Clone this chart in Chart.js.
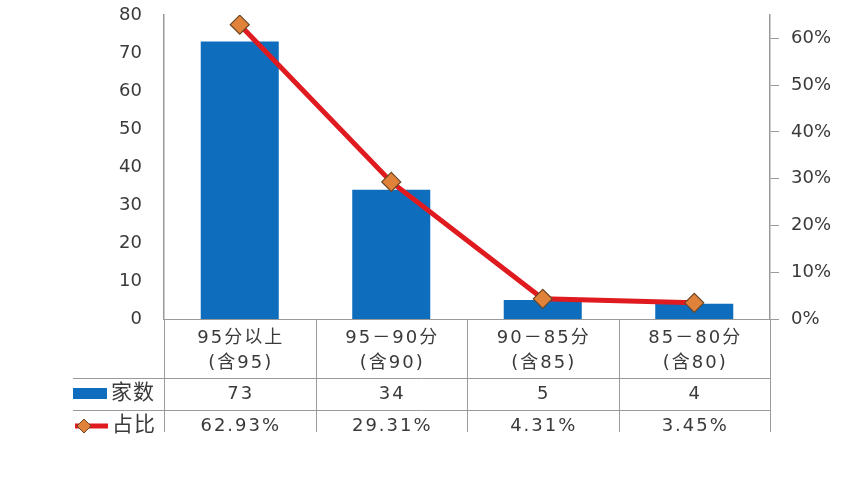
<!DOCTYPE html>
<html>
<head>
<meta charset="utf-8">
<script src="https://cdn.jsdelivr.net/npm/chart.js@4/dist/chart.umd.min.js"></script>
<style>
  html, body { margin: 0; padding: 0; background: #fff; }
</style>
</head>
<body>
<canvas id="myChart" width="862" height="486"></canvas>
<script>
// data
const categories = [['95分以上', '(含95)'], ['95－90分', '(含90)'], ['90－85分', '(含85)'], ['85－80分', '(含80)']];
const counts = [73, 34, 5, 4];
const shares = [62.93, 29.31, 4.31, 3.45];
const countLabel = '家数';
const shareLabel = '占比';

const FONT = '"DejaVu Sans", "Noto Sans CJK SC", sans-serif';
const TEXT = '#3a3a3a';
const GRID = '#9a9a9a';
const BLUE = '#0e6dbd';
const RED = '#e01b20';
const MARK = '#e0823a';
const MARK_EDGE = '#6a4626';

// draws the data table under the x axis (category row + 2 value rows)
const tablePlugin = {
    id: 'dataTable',
    afterDraw(chart) {
        const ctx = chart.ctx;
        const area = chart.chartArea;
        const x = chart.scales.x;
        const half = (x.getPixelForValue(1) - x.getPixelForValue(0)) / 2;
        const top = area.bottom;
        const row1 = top + 59;
        const row2 = row1 + 32;
        const bottom = row2 + 22;
        const keyLeft = 73;

        ctx.save();
        ctx.strokeStyle = GRID;
        ctx.lineWidth = 1;
        ctx.beginPath();
        [row1, row2].forEach(y => {
            ctx.moveTo(keyLeft, y + 0.5);
            ctx.lineTo(area.right, y + 0.5);
        });
        for (let i = 0; i <= categories.length; i++) {
            const xx = Math.round(area.left + i * 2 * half) + 0.5;
            ctx.moveTo(xx, top);
            ctx.lineTo(xx, bottom);
        }
        ctx.stroke();

        ctx.fillStyle = TEXT;
        ctx.textAlign = 'center';
        ctx.textBaseline = 'middle';
        ctx.font = '18px ' + FONT;
        ctx.letterSpacing = '2px';
        categories.forEach((lines, i) => {
            const cx = x.getPixelForValue(i) + 1;
            ctx.fillText(lines[0], cx, top + 19);
            ctx.fillText(lines[1], cx, top + 44);
            ctx.fillText(String(counts[i]), cx, row1 + 16);
            ctx.fillText(shares[i].toFixed(2) + '%', cx, row2 + 16);
        });

        // legend keys
        ctx.fillStyle = BLUE;
        ctx.fillRect(keyLeft, row1 + 10, 34, 11);
        ctx.strokeStyle = RED;
        ctx.lineWidth = 5;
        ctx.beginPath();
        ctx.moveTo(keyLeft + 2, row2 + 16);
        ctx.lineTo(keyLeft + 35, row2 + 16);
        ctx.stroke();
        ctx.fillStyle = MARK;
        ctx.strokeStyle = MARK_EDGE;
        ctx.lineWidth = 1;
        ctx.beginPath();
        ctx.moveTo(keyLeft + 11, row2 + 9);
        ctx.lineTo(keyLeft + 18, row2 + 16);
        ctx.lineTo(keyLeft + 11, row2 + 23);
        ctx.lineTo(keyLeft + 4, row2 + 16);
        ctx.closePath();
        ctx.fill();
        ctx.stroke();

        ctx.fillStyle = TEXT;
        ctx.textAlign = 'left';
        ctx.font = '21px ' + FONT;
        ctx.letterSpacing = '1px';
        ctx.fillText(countLabel, keyLeft + 38, row1 + 16);
        ctx.fillText(shareLabel, keyLeft + 39, row2 + 16);
        ctx.restore();
    }
};

const ctx = document.getElementById('myChart').getContext('2d');

const myChart = new Chart(ctx, {
    type: 'bar',
    data: {
        labels: categories,
        datasets: [{
            type: 'line',
            label: shareLabel,
            data: shares,
            yAxisID: 'y1',
            borderColor: RED,
            borderWidth: 5,
            pointStyle: 'rectRot',
            pointRadius: 9.5,
            pointBackgroundColor: MARK,
            pointBorderColor: MARK_EDGE,
            pointBorderWidth: 1.2,
            order: 1
        }, {
            label: countLabel,
            data: counts,
            yAxisID: 'y',
            backgroundColor: BLUE,
            barPercentage: 0.515,
            categoryPercentage: 1,
            order: 2
        }]
    },
    options: {
        responsive: false,
        animation: false,
        layout: { padding: { top: 15, left: 0, right: 0, bottom: 0 } },
        plugins: {
            legend: { display: false },
            tooltip: { enabled: false }
        },
        scales: {
            x: {
                grid: { display: false },
                border: { display: true, color: GRID, width: 1 },
                ticks: { display: false },
                afterFit: s => { s.height = 167; }
            },
            y: {
                position: 'left',
                min: 0,
                max: 80,
                ticks: { stepSize: 10, color: TEXT, padding: 14, font: { family: FONT, size: 18 } },
                grid: { display: false },
                border: { display: true, color: GRID, width: 1.5 },
                afterFit: s => { s.width = 164; s.paddingTop = 0; s.paddingBottom = 0; }
            },
            y1: {
                position: 'right',
                min: 0,
                max: 65,
                ticks: {
                    stepSize: 10, color: TEXT, padding: 12,
                    font: { family: FONT, size: 18 },
                    callback: v => v + '%'
                },
                afterBuildTicks: s => { s.ticks = s.ticks.filter(t => t.value % 10 === 0); },
                grid: { drawOnChartArea: false, drawTicks: true, tickLength: 9, color: GRID },
                border: { display: true, color: GRID, width: 1.5 },
                afterFit: s => { s.width = 92; s.paddingTop = 0; s.paddingBottom = 0; }
            }
        }
    },
    plugins: [tablePlugin]
});
</script>
</body>
</html>
